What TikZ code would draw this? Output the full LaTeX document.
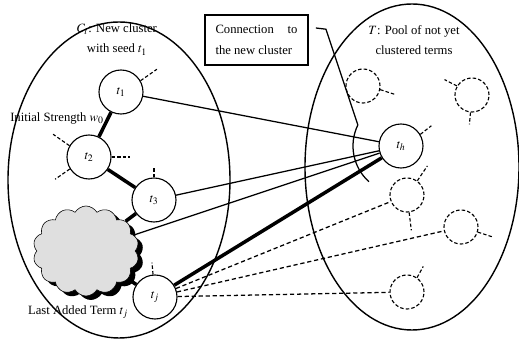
\documentclass[tikz,border=0pt]{standalone}
\usepackage{mathptmx}
\usepackage{fontspec}
\setmainfont{Liberation Serif}
\usetikzlibrary{calc,shapes.symbols,shadows}

\tikzset{
	term/.style={circle, draw, thick, fill=white, minimum size=1.1cm, inner sep=0pt},
	pool/.style={circle, draw, thick, dash pattern=on 2.5pt off 1.5pt, minimum size=0.85cm, inner sep=0pt},
	stub/.style={thick, dash pattern=on 2.5pt off 1.5pt},
	link/.style={line width=0.9pt},
	strong/.style={line width=2.5pt},
	candidate/.style={line width=0.9pt, dash pattern=on 3pt off 2pt}
}

\begin{document}
\begin{tikzpicture}[font=\fontsize{9}{14.5}\selectfont]
	\useasboundingbox (0,0) rectangle (12.975,8.575);
	
	\draw[line width=1pt] (2.975,4.075) ellipse (2.775cm and 3.95cm);
	\draw[line width=1pt] (10.3,4.4) ellipse (2.675cm and 4.075cm);
	
	\node (ctitle) at (2.925,7.5875) [align=center] {$C_t$: New cluster\\with seed $t_1$};
	\node (ttitle) at (10.35,7.575) [align=center] {$T$: Pool of not yet\\clustered terms};
	\node (conn) at (6.4125,7.575) [draw, line width=1pt, minimum width=2.575cm, minimum height=1.25cm, align=left] {\makebox[2.05cm][s]{Connection to}\\the new cluster};
	
	\node (t1) at (3.025,6.275) [term] {$t_1$};
	\node (t2) at (2.225,4.65) [term] {$t_2$};
	\node (t3) at (3.85,3.575) [term] {$t_3$};
	\node (tj) at (3.875,1.15) [term] {$t_j$};
	\node (cloud) at (2.15,2.3) [cloud, cloud puffs=14, cloud puff arc=120, draw, fill=gray!25, minimum width=2.65cm, minimum height=2.25cm, drop shadow={fill=black, opacity=1, shadow xshift=0.12cm, shadow yshift=-0.1cm}] {};
	
	\node (th) at (10.025,4.925) [term] {$t_h$};
	\node (p1) at (9.075,6.425) [pool] {};
	\node (p2) at (11.8,6.2) [pool] {};
	\node (p3) at (10.175,3.7) [pool] {};
	\node (p4) at (11.525,2.9) [pool] {};
	\node (p5) at (10.175,1.275) [pool] {};
	
	\node (wlabel) at (1.425,5.625) {Initial Strength $w_0$};
	\node (jlabel) at (1.95,0.775) {Last Added Term $t_j$};
	
	\draw[strong] (t1) -- (t2);
	\draw[strong] (t2) -- (t3);
	\draw[strong] (t3) -- (cloud);
	\draw[strong] (cloud) -- (tj);
	
	\draw[link] (t1) -- (th);
	\draw[link] (t3) -- (th);
	\draw[link] (cloud) -- (th);
	\draw[strong] (tj) -- (th);
	\draw[candidate] (tj) -- (p3);
	\draw[candidate] (tj) -- (p4);
	\draw[candidate] (tj) -- (p5);
	
	\draw[stub] (t1.30) -- ++(35:0.5);
	\draw[stub] (t2.150) -- ++(145:0.5);
	\draw[stub] (t2.212) -- ++(215:0.45);
	\draw[stub] (t2.east) -- ++(0:0.45);
	\draw[stub] (t3.north) -- ++(90:0.28);
	\draw[stub] (tj.95) -- ++(95:0.3);
	\draw[stub] (th.31) -- ++(38:0.35);
	\draw[stub] (p1.-12) -- ++(-18:0.4);
	\draw[stub] (p2.149) -- ++(153:0.35);
	\draw[stub] (p2.-95) -- ++(-95:0.3);
	\draw[stub] (p3.54) -- ++(56:0.45);
	\draw[stub] (p3.-83) -- ++(-83:0.45);
	\draw[stub] (p4.-17) -- ++(-18:0.4);
	\draw[stub] (p5.55) -- ++(61:0.32);
	
	\coordinate (bend) at ($(th.center)+(154:1.2)$);
	\coordinate (lead) at ([xshift=0.18cm,yshift=0.3cm]conn.east);
	\draw[line width=0.9pt] (lead) -- ++(0.25,-0.03) -- (bend);
	\draw[line width=0.9pt] (bend) arc (154:228:1.2);
\end{tikzpicture}
\end{document}
